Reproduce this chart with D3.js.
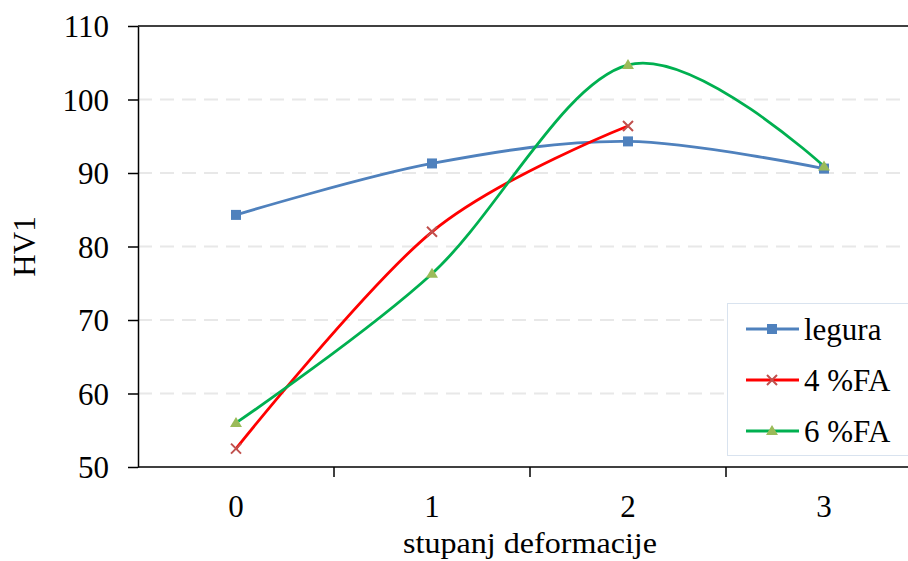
<!DOCTYPE html>
<html><head><meta charset="utf-8">
<script src="https://cdn.jsdelivr.net/npm/d3@7"></script>
<style>body{margin:0;background:#fff}svg{display:block}text{font-family:"Liberation Serif","Times New Roman",serif;fill:#000}</style>
</head><body><svg id="c" width="908" height="561"></svg>
<script>
const categories = [0, 1, 2, 3];
const yTicks = [50, 60, 70, 80, 90, 100, 110];
const seriesNames = ["legura", "4 %FA", "6 %FA"];
const legura = [84.3, 91.3, 94.3, 90.6];
const fa4 = [52.5, 82.0, 96.4, null];
const fa6 = [56.0, 76.3, 104.7, 90.9];
const lineColors = ["#4f81bd", "#ff0000", "#00b050"];
const markerColors = ["#4f81bd", "#c0504d", "#9bbb59"];
const markerTypes = ["square", "x", "triangle"];

const svg = d3.select("#c");
const L = 138, R = 922, T = 26, B = 467;
const x = d3.scaleBand().domain(categories).range([L, R]);
const y = d3.scaleLinear().domain([50, 110]).range([B, T]);
const cx = d => x(d) + x.bandwidth() / 2;
const FS = 31;

// gridlines
svg.append("g").selectAll("line").data(yTicks.filter(t => t > 50 && t < 110)).join("line")
  .attr("x1", L).attr("x2", 908).attr("y1", d => y(d)).attr("y2", d => y(d))
  .attr("stroke", "#e8e8e8").attr("stroke-width", 2).attr("stroke-dasharray", "14,8");

// top border
svg.append("line").attr("x1", L).attr("x2", 908).attr("y1", y(110)).attr("y2", y(110))
  .attr("stroke", "#000").attr("stroke-width", 1.5);

// y axis
const ya = svg.append("g").attr("transform", `translate(${L},0)`)
  .call(d3.axisLeft(y).tickValues(yTicks).tickSize(10).tickPadding(19).tickSizeOuter(0));
ya.select(".domain").attr("stroke", "#000").attr("stroke-width", 1.5);
ya.selectAll(".tick line").attr("stroke", "#000").attr("stroke-width", 1.5);
ya.selectAll("text").attr("font-size", FS).attr("font-family", "Liberation Serif").attr("fill", "#000").attr("dy", "0.35em");

// x axis
const xa = svg.append("g").attr("transform", `translate(0,${B})`)
  .call(d3.axisBottom(x).tickSize(0).tickPadding(28).tickSizeOuter(0));
xa.select(".domain").remove();
svg.append("line").attr("x1", L).attr("x2", 908).attr("y1", B).attr("y2", B).attr("stroke", "#000").attr("stroke-width", 1.5);
xa.selectAll("text").attr("font-size", FS).attr("font-family", "Liberation Serif").attr("fill", "#000");
svg.append("g").selectAll("line").data(categories.slice(1)).join("line")
  .attr("x1", d => x(d)).attr("x2", d => x(d)).attr("y1", B).attr("y2", B + 10)
  .attr("stroke", "#000").attr("stroke-width", 1.5);

// axis titles
svg.append("text").attr("x", 530).attr("y", 553).attr("text-anchor", "middle").attr("font-size", 29)
  .attr("textLength", 254).attr("lengthAdjust", "spacingAndGlyphs").text("stupanj deformacije");
svg.append("text").attr("transform", `translate(35,${(T + B) / 2}) rotate(-90)`).attr("text-anchor", "middle").attr("font-size", FS).text("HV1");

// lines
const data = [legura, fa4, fa6];
const line = d3.line().defined(d => d.v != null).x(d => cx(d.c)).y(d => y(d.v)).curve(d3.curveCardinal.tension(0));
function drawMarker(g, type, px, py, color) {
  if (type === "square") g.append("rect").attr("x", px - 5).attr("y", py - 5).attr("width", 10).attr("height", 10).attr("fill", color);
  else if (type === "x") g.append("path").attr("d", `M${px-5},${py-5}L${px+5},${py+5}M${px-5},${py+5}L${px+5},${py-5}`).attr("stroke", color).attr("stroke-width", 2);
  else g.append("path").attr("d", `M${px},${py-6}L${px+6},${py+4}L${px-6},${py+4}Z`).attr("fill", color);
}
data.forEach((vals, i) => {
  const pts = categories.map((c, j) => ({c, v: vals[j]}));
  svg.append("path").attr("d", line(pts)).attr("fill", "none").attr("stroke", lineColors[i]).attr("stroke-width", 2.8);
});
data.forEach((vals, i) => {
  const g = svg.append("g");
  categories.forEach((c, j) => { if (vals[j] != null) drawMarker(g, markerTypes[i], cx(c), y(vals[j]), markerColors[i]); });
});

// legend
svg.append("rect").attr("x", 727.5).attr("y", 303.5).attr("width", 200).attr("height", 152)
  .attr("fill", "#fff").attr("stroke", "#d9e3ef").attr("stroke-width", 1);
const rowsY = [329, 380, 431];
seriesNames.forEach((n, i) => {
  const g = svg.append("g");
  g.append("line").attr("x1", 746).attr("x2", 799).attr("y1", rowsY[i]).attr("y2", rowsY[i]).attr("stroke", lineColors[i]).attr("stroke-width", 2.8);
  drawMarker(g, markerTypes[i], 772, rowsY[i], markerColors[i]);
  g.append("text").attr("x", 804).attr("y", rowsY[i]).attr("dy", "0.35em").attr("font-size", FS).text(n);
});
</script></body></html>
